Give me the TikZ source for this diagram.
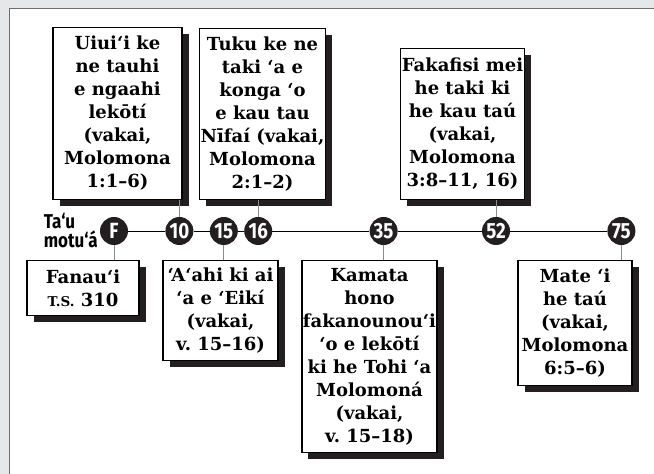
\documentclass[tikz,border=0pt]{standalone}
\usepackage{fontspec}
\newfontfamily\tlsans{Fira Sans}[FakeStretch=0.85]
\newfontfamily\tlserif{DejaVu Serif}
\usetikzlibrary{positioning,shadows}
\definecolor{tlpanel}{HTML}{E6E7E8}
\definecolor{tlframe}{HTML}{6D6E71}
\definecolor{tlink}{HTML}{231F20}
\definecolor{tlgrey}{HTML}{8C8C8C}

\begin{document}
\begin{tikzpicture}[x=1pt, y=1pt,
    event/.style={draw=black, line width=1.1pt, fill=white, align=center,
                  inner sep=1pt, font=\tlserif\bfseries\fontsize{18}{23}\selectfont,
                  drop shadow={shadow xshift=6.5pt, shadow yshift=-6.5pt,
                               opacity=1, fill=tlink}},
    age/.style={circle, fill=tlink, minimum size=28pt, inner sep=0pt, text=white,
                font=\tlsans\bfseries\fontsize{22}{22}\selectfont},
    stem/.style={draw=tlgrey, line width=0.9pt},
    timeline/.style={draw=black, line width=0.9pt},
]
\useasboundingbox (0,0) rectangle (654,474);
% Panel
\fill[tlpanel] (0,0) rectangle (654,474);
\fill[white] (9.5,0) rectangle (654,465.5);
\draw[tlframe, line width=1.5pt] (9.5,0) -- (9.5,465.5) -- (654,465.5);

% Ages on the timeline
\node[age] (cF) at (114,243) {F};
\node[age, right=37pt of cF] (c10) {10};
\node[age, right=16pt of c10] (c15) {15};
\node[age, right=6pt of c15] (c16) {16};
\node[age, right=97pt of c16] (c35) {35};
\node[age, right=84pt of c35] (c52) {52};
\node[age, right=97pt of c52] (c75) {75};
\draw[timeline] (cF) -- (c10) -- (c15) -- (c16) -- (c35) -- (c52) -- (c75);

\node[left=2pt of cF, inner sep=0pt, align=left,
      font=\tlsans\bfseries\fontsize{20}{19}\selectfont] (title) {Ta‘u\\motu‘á};

% Events above
\node[event, minimum width=129pt, minimum height=172pt, anchor=south] (e10) at (117.5,274)
  {Uiui‘i ke\\ne tauhi\\e ngaahi\\lekōtí\\(vakai,\\Molomona\\1:1–6)};
\node[event, minimum width=125pt, minimum height=171pt, anchor=south] (e16) at (262.5,274)
  {Tuku ke ne\\taki ‘a e\\konga ‘o\\e kau tau\\Nīfaí (vakai,\\Molomona\\2:1–2)};
\node[event, minimum width=123pt, minimum height=151pt, anchor=south] (e52) at (462.5,274)
  {Fakafisi mei\\he taki ki\\he kau taú\\(vakai,\\Molomona\\3:8–11, 16)};

% Events below
\node[event, minimum width=112pt, minimum height=55pt, anchor=north] (eF) at (83,214)
  {Fanau‘i\\{\fontsize{13.5}{13.5}\selectfont T.S.}~310};
\node[event, minimum width=115pt, minimum height=100pt, anchor=north] (e15) at (220.5,214)
  {‘A‘ahi ki ai\\‘a e ‘Eikí\\(vakai,\\v.~15–16)};
\node[event, minimum width=135pt, minimum height=192pt, anchor=north] (e35) at (369.5,214)
  {Kamata\\hono\\fakanounou‘i\\‘o e lekōtí\\ki he Tohi ‘a\\Molomoná\\(vakai,\\v.~15–18)};
\node[event, minimum width=114pt, minimum height=125pt, anchor=north] (e75) at (575,214)
  {Mate ‘i\\he taú\\(vakai,\\Molomona\\6:5–6)};

% Stems
\draw[stem] (c10) -- (c10 |- e10.south);
\draw[stem] (c16) -- (c16 |- e16.south);
\draw[stem] (c52) -- (c52 |- e52.south);
\draw[stem] (cF) -- (cF |- eF.north);
\draw[stem] (c15) -- (c15 |- e15.north);
\draw[stem] (c35) -- (c35 |- e35.north);
\draw[stem] (c75) -- (c75 |- e75.north);
\end{tikzpicture}
\end{document}
